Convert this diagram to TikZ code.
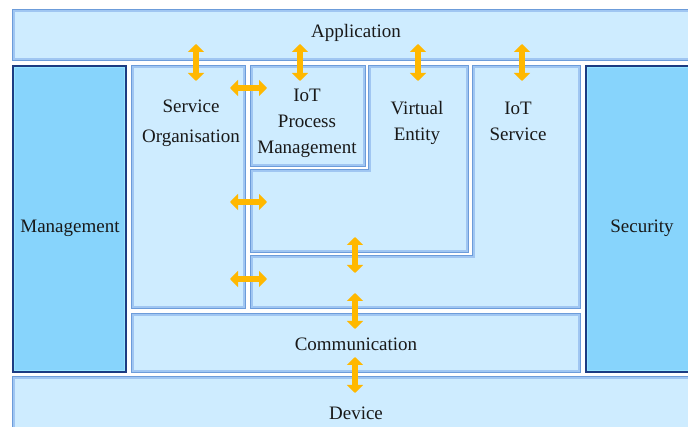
\documentclass[tikz,border=0pt]{standalone}
\usepackage{fontspec}
\setmainfont{Liberation Serif}
\usetikzlibrary{arrows.meta}
\definecolor{boxfill}{RGB}{206,236,255}
\definecolor{boxline}{RGB}{108,156,218}
\definecolor{boxinner}{RGB}{160,198,242}
\definecolor{darkfill}{RGB}{135,212,252}
\definecolor{darkline}{RGB}{28,60,130}
\definecolor{darkinner}{RGB}{150,228,255}
\definecolor{arr}{RGB}{255,184,0}
\begin{document}
\begin{tikzpicture}[x=1pt,y=-1pt,
  lightbox/.style={fill=boxfill, draw=boxinner, line width=2.6pt, inner sep=0pt, outer sep=0pt, anchor=north west},
  sidebox/.style={fill=darkfill, draw=darkinner, line width=2.4pt, inner sep=0pt, outer sep=0pt, anchor=north west},
  lshape/.style={fill=boxfill, draw=boxinner, line width=2.6pt},
  outl/.style={draw=boxline, line width=1.2pt},
  darkoutl/.style={draw=darkline, line width=1.6pt},
  lbl/.style={font=\fontsize{19}{26}\selectfont, align=center, text=black!90, inner sep=0pt},
  dbl/.style={draw=arr, line width=6.5pt, {Triangle[length=8pt,width=16pt]}-{Triangle[length=8pt,width=16pt]}}]
\useasboundingbox (0,0) rectangle (688,427);
\fill[white] (0,0) rectangle (688,427);
\clip (0,0) rectangle (688,427);
% boxes
\node[lightbox, minimum width=690pt, minimum height=48pt] (app) at (14,11) {};
\node[lightbox, minimum width=690pt, minimum height=60pt] (dev) at (14,378) {};
\node[sidebox, minimum width=111pt, minimum height=304pt] (mgmt) at (14,67) {};
\node[sidebox, minimum width=110pt, minimum height=304pt] (sec) at (587,67) {};
\node[lightbox, minimum width=111pt, minimum height=240pt] (so) at (133,67) {};
\node[lightbox, minimum width=112pt, minimum height=98pt] (ipm) at (252,67) {};
\node[lightbox, minimum width=446pt, minimum height=56pt] (comm) at (133,315) {};
\draw[lshape] (370,67) -- (467,67) -- (467,251) -- (252,251) -- (252,171) -- (370,171) -- cycle;
\draw[lshape] (474,67) -- (579,67) -- (579,307) -- (252,307) -- (252,257) -- (474,257) -- cycle;
% outer lines
\foreach \b in {app,dev,so,ipm,comm}
  \draw[outl] ([shift={(-1.2,-1.2)}]\b.north west) rectangle ([shift={(1.2,1.2)}]\b.south east);
\foreach \b in {mgmt,sec}
  \draw[darkoutl] ([shift={(-1.2,-1.2)}]\b.north west) rectangle ([shift={(1.2,1.2)}]\b.south east);
\draw[outl] (368.8,65.8) -- (468.2,65.8) -- (468.2,252.2) -- (250.8,252.2) -- (250.8,169.8) -- (368.8,169.8) -- cycle;
\draw[outl] (472.8,65.8) -- (580.2,65.8) -- (580.2,308.2) -- (250.8,308.2) -- (250.8,255.8) -- (472.8,255.8) -- cycle;
% labels
\node[lbl] (tapp) at (356,33) {Application};
\node[lbl] (tdev) at (356,413) {Device};
\node[lbl] (tcomm) at (356,344) {Communication};
\node[lbl] (tmgmt) at (70,228) {Management};
\node[lbl] (tsec) at (642,228) {Security};
\node[lbl, font=\fontsize{19}{30}\selectfont] (tso) at (191,123) {Service\\Organisation};
\node[lbl] (tipm) at (307,123) {IoT\\Process\\Management};
\node[lbl] (tve) at (417,123) {Virtual\\Entity};
\node[lbl] (tis) at (518,121) {IoT\\Service};
% arrows
\coordinate (a1s) at (196,44); \coordinate (a1e) at (196,81);
\coordinate (a2s) at (300,44); \coordinate (a2e) at (300,81);
\coordinate (a3s) at (418,44); \coordinate (a3e) at (418,81);
\coordinate (a4s) at (522,44); \coordinate (a4e) at (522,81);
\coordinate (h1s) at (230,88); \coordinate (h1e) at (267,88);
\coordinate (h2s) at (230,202); \coordinate (h2e) at (267,202);
\coordinate (h3s) at (230,279); \coordinate (h3e) at (267,279);
\coordinate (v1s) at (355,237); \coordinate (v1e) at (355,273);
\coordinate (v2s) at (355,293); \coordinate (v2e) at (355,329);
\coordinate (v3s) at (355,357); \coordinate (v3e) at (355,393);
\foreach \p in {a1,a2,a3,a4,h1,h2,h3,v1,v2,v3}
  \draw[dbl] (\p s) -- (\p e);
\end{tikzpicture}
\end{document}
